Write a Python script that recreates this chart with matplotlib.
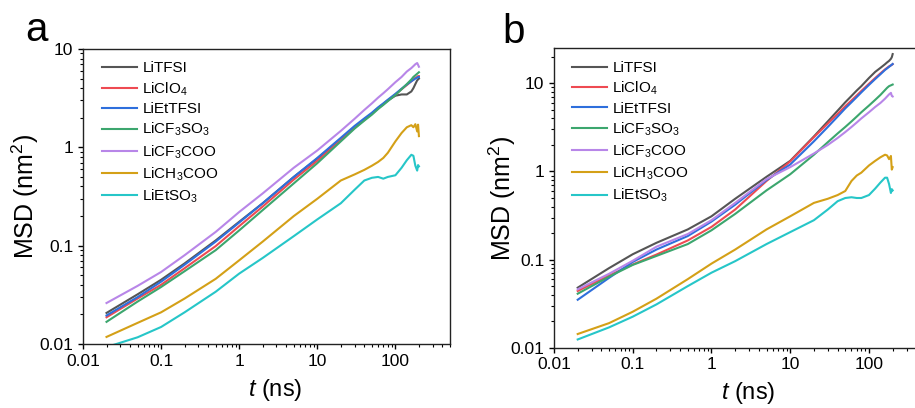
import matplotlib
matplotlib.use('Agg')
import matplotlib.pyplot as plt
from matplotlib.ticker import FuncFormatter

plt.rcParams['font.family'] = 'Liberation Sans'
plt.rcParams['mathtext.fontset'] = 'custom'
plt.rcParams['mathtext.rm'] = 'Liberation Sans'
plt.rcParams['mathtext.it'] = 'Liberation Sans:italic'

# time axis (ns), shared by every curve
t = [0.02, 0.05, 0.1, 0.2, 0.5, 1, 2, 5, 10, 20, 30, 40, 50, 60, 70, 80,
     100, 120, 140, 160, 170, 180, 190, 195, 200]

labels = ['LiTFSI', 'LiClO$_4$', 'LiEtTFSI', 'LiCF$_3$SO$_3$',
          'LiCF$_3$COO', 'LiCH$_3$COO', 'LiEtSO$_3$']
colors = ['#555555', '#ee4a52', '#2e6fdc', '#3ca66e', '#b886e8', '#d4a017', '#26c6c8']

# panel a
a_tfsi = [0.0207, 0.032, 0.045, 0.066, 0.113, 0.175, 0.27, 0.50, 0.77, 1.22, 1.60, 1.92, 2.2,
          2.5, 2.75, 3.0, 3.35, 3.45, 3.45, 3.7, 4.0, 4.4, 4.8, 4.9, 5.0]
a_clo4 = [0.0187, 0.029, 0.040, 0.059, 0.099, 0.158, 0.25, 0.47, 0.73, 1.19, 1.58, 1.9, 2.2,
          2.5, 2.75, 3.0, 3.45, 3.9, 4.3, 4.7, 4.9, 5.1, 5.2, 5.3, 5.3]
a_ettfsi = [0.0195, 0.030, 0.043, 0.064, 0.110, 0.172, 0.27, 0.50, 0.78, 1.25, 1.65, 1.97, 2.25,
            2.55, 2.8, 3.05, 3.5, 3.95, 4.35, 4.7, 4.85, 5.0, 5.1, 5.2, 5.2]
a_cf3so3 = [0.0168, 0.027, 0.038, 0.055, 0.090, 0.143, 0.23, 0.43, 0.69, 1.15, 1.55, 1.87, 2.15,
            2.45, 2.7, 2.95, 3.4, 3.9, 4.4, 4.9, 5.2, 5.4, 5.6, 5.7, 5.8]
a_cf3coo = [0.0261, 0.039, 0.054, 0.080, 0.138, 0.22, 0.34, 0.62, 0.93, 1.47, 1.95, 2.4, 2.8,
            3.2, 3.55, 3.9, 4.6, 5.2, 5.9, 6.4, 6.7, 7.0, 7.2, 6.9, 6.6]
a_ch3coo = [0.0118, 0.0164, 0.021, 0.029, 0.046, 0.071, 0.11, 0.20, 0.30, 0.46, 0.53, 0.59, 0.65,
            0.71, 0.78, 0.88, 1.15, 1.4, 1.6, 1.68, 1.6, 1.72, 1.45, 1.7, 1.3]
a_etso3 = [0.0093, 0.0117, 0.0149, 0.021, 0.034, 0.052, 0.075, 0.125, 0.185, 0.27, 0.37, 0.46, 0.49,
           0.50, 0.48, 0.50, 0.52, 0.62, 0.74, 0.84, 0.82, 0.65, 0.58, 0.66, 0.64]

# panel b
b_tfsi = [0.048, 0.080, 0.115, 0.155, 0.22, 0.31, 0.49, 0.87, 1.32, 2.5, 3.7, 4.9, 6.1,
          7.2, 8.3, 9.3, 11.5, 13.5, 15.0, 16.5, 17.3, 18.0, 19.0, 19.8, 21.5]
b_clo4 = [0.044, 0.066, 0.088, 0.114, 0.165, 0.235, 0.37, 0.78, 1.3, 2.45, 3.5, 4.5, 5.5,
          6.4, 7.3, 8.2, 9.9, 11.5, 13.0, 14.4, 15.0, 15.6, 16.0, 16.2, 16.5]
b_ettfsi = [0.035, 0.062, 0.094, 0.13, 0.185, 0.27, 0.42, 0.80, 1.2, 2.2, 3.2, 4.2, 5.2,
            6.1, 7.0, 7.9, 9.6, 11.2, 12.7, 14.2, 14.8, 15.4, 16.0, 16.3, 16.6]
b_cf3so3 = [0.041, 0.064, 0.087, 0.11, 0.15, 0.215, 0.33, 0.61, 0.93, 1.55, 2.15, 2.7, 3.2,
            3.7, 4.2, 4.7, 5.6, 6.5, 7.4, 8.4, 8.9, 9.3, 9.5, 9.6, 9.7]
b_cf3coo = [0.046, 0.069, 0.097, 0.14, 0.195, 0.28, 0.44, 0.82, 1.12, 1.6, 2.0, 2.4, 2.8,
            3.2, 3.6, 4.0, 4.7, 5.4, 6.0, 6.7, 7.1, 7.5, 7.8, 7.2, 7.1]
b_ch3coo = [0.0143, 0.019, 0.0256, 0.036, 0.060, 0.090, 0.13, 0.22, 0.31, 0.44, 0.49, 0.54, 0.60,
            0.78, 0.90, 0.97, 1.17, 1.32, 1.45, 1.55, 1.52, 1.38, 1.5, 1.05, 1.12]
b_etso3 = [0.0124, 0.017, 0.0225, 0.031, 0.05, 0.071, 0.096, 0.15, 0.205, 0.28, 0.37, 0.46, 0.50,
           0.51, 0.50, 0.50, 0.54, 0.64, 0.75, 0.85, 0.85, 0.72, 0.57, 0.63, 0.61]

series_a = [a_tfsi, a_clo4, a_ettfsi, a_cf3so3, a_cf3coo, a_ch3coo, a_etso3]
series_b = [b_tfsi, b_clo4, b_ettfsi, b_cf3so3, b_cf3coo, b_ch3coo, b_etso3]

W, H = 915, 408
fig = plt.figure(figsize=(W / 100, H / 100), dpi=100)
ax_a = fig.add_axes([83 / W, 1 - 344 / H, 367 / W, 295 / H])
ax_b = fig.add_axes([554 / W, 1 - 347.7 / H, 370 / W, 299.4 / H])

fmt = FuncFormatter(lambda v, p: '{:g}'.format(v))

panels = [(ax_a, series_a, (0.01, 10), 0.052, -0.115, (0.523, -0.112)),
          (ax_b, series_b, (0.01, 25), 0.049, -0.096, (0.524, -0.108))]

for ax, series, ylim, lx, ylab_x, xlab_xy in panels:
    for y, lab, c in zip(series, labels, colors):
        ax.plot(t, y, color=c, lw=1.5, label=lab)
    ax.set_xscale('log')
    ax.set_yscale('log')
    ax.set_xlim(0.01, 500)
    ax.set_ylim(*ylim)
    ax.xaxis.set_major_formatter(fmt)
    ax.yaxis.set_major_formatter(fmt)
    ax.tick_params(which='major', direction='out', length=3.5, width=1, labelsize=12.5,
                   top=False, right=False)
    ax.tick_params(which='minor', direction='out', length=2, width=0.8,
                   top=False, right=False)
    for s in ax.spines.values():
        s.set_linewidth(1.0)
        s.set_color('#222222')
    ax.set_xlabel('$t$ (ns)', fontsize=17)
    ax.set_ylabel('MSD (nm$^2$)', fontsize=18)
    ax.yaxis.set_label_coords(ylab_x, 0.5)
    ax.xaxis.set_label_coords(*xlab_xy)
    ax.legend(loc='upper left', bbox_to_anchor=(lx, 0.958), frameon=False, fontsize=11,
              handlelength=2.3, handletextpad=0.33, labelspacing=0.31,
              borderpad=0, borderaxespad=0)

fig.text(25 / W, 1 - 41 / H, 'a', fontsize=29, va='baseline')
fig.text(502 / W, 1 - 43 / H, 'b', fontsize=29, va='baseline')

fig.savefig('out.png', dpi=100)
